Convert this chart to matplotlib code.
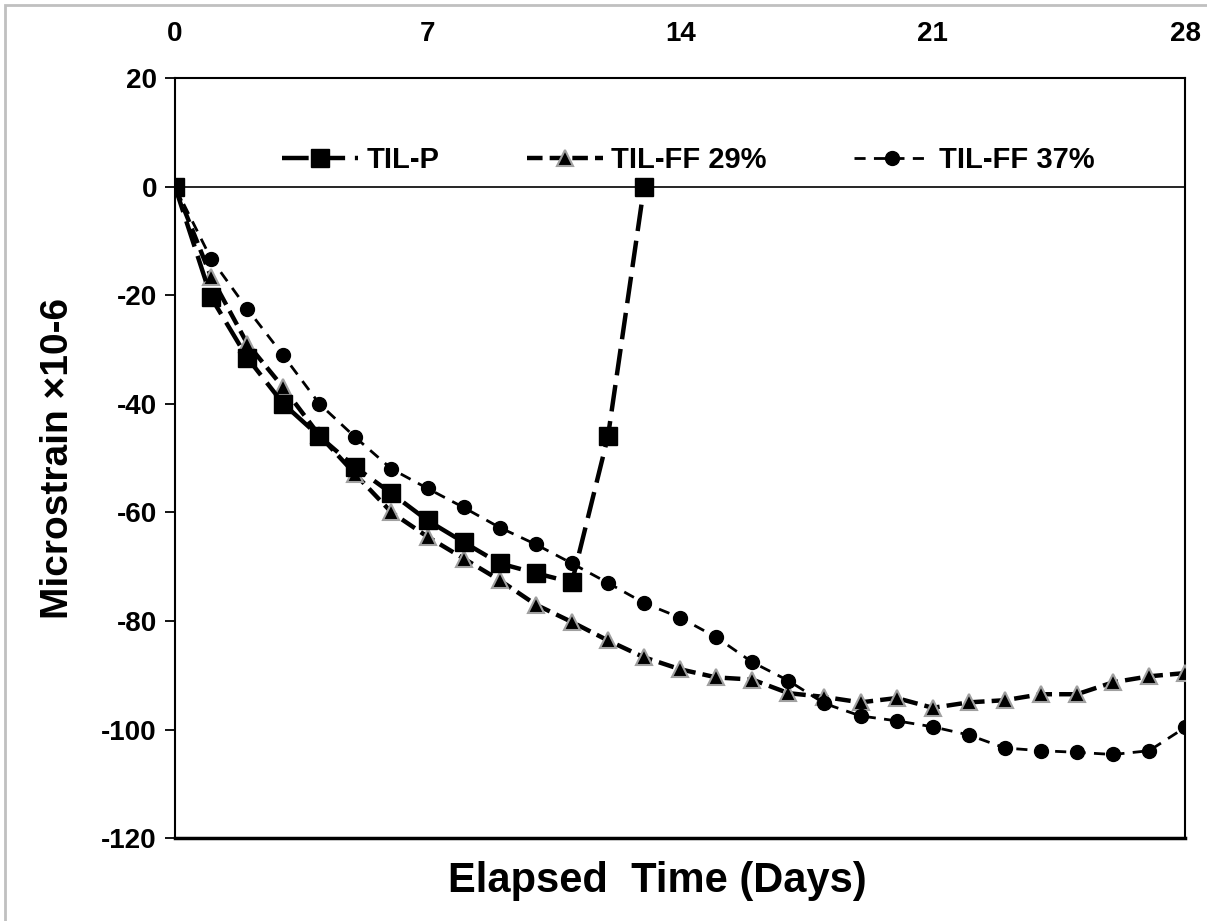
import matplotlib
matplotlib.use("Agg")
import matplotlib.pyplot as plt
from matplotlib.patches import Rectangle

plt.rcParams['font.family'] = ['Liberation Sans', 'DejaVu Sans']
plt.rcParams['font.weight'] = 'bold'
plt.rcParams['axes.unicode_minus'] = False

# days
days_p = list(range(0, 14))
days_ff = list(range(0, 29))

# TIL-P (squares)
til_p = [0, -20.4, -31.5, -40, -46, -51.7, -56.5, -61.5, -65.5, -69.4, -71.2, -72.9, -46, 0]

# TIL-FF 29% (triangles)
til_ff29 = [0, -16.6, -28.9, -37, -45.8, -53, -60, -64.5, -68.5, -72.5, -77, -80.2, -83.6, -86.7,
            -88.9, -90.4, -90.8, -93.3, -94, -95, -94.2, -96, -95, -94.6, -93.5, -93.5, -91.3, -90.2, -89.6]

# TIL-FF 37% (circles)
til_ff37 = [0, -13.3, -22.5, -31.1, -40, -46.2, -52, -55.6, -59.1, -62.8, -65.9, -69.4, -73, -76.7,
            -79.4, -83, -87.6, -91, -95.2, -97.5, -98.4, -99.5, -101, -103.4, -103.9, -104.2, -104.6, -103.9, -99.6]

x_ticks = [0, 7, 14, 21, 28]
y_ticks = [20, 0, -20, -40, -60, -80, -100, -120]

fig = plt.figure(figsize=(12.07, 9.21), dpi=100)
ax = fig.add_axes([0.145, 0.09, 0.837, 0.8253])

ax.axhline(0, color='black', lw=1.2, zorder=1)

ax.plot(days_p, til_p, color='black', lw=3.2, dashes=(6, 2.2), marker='s', markersize=13,
        markerfacecolor='black', markeredgecolor='black', label='TIL-P', zorder=4)
ax.plot(days_ff, til_ff29, color='black', lw=3.2, dashes=(3.5, 1.6), marker='^', markersize=12,
        markerfacecolor='black', markeredgecolor='#a0a0a0', markeredgewidth=1.5, label='TIL-FF 29%', zorder=3)
ax.plot(days_ff, til_ff37, color='black', lw=2, dashes=(4, 3), marker='o', markersize=10,
        markerfacecolor='black', markeredgecolor='black', label='TIL-FF 37%', zorder=3)

ax.set_xlim(0, 28)
ax.set_ylim(-120, 20)
ax.set_xticks(x_ticks)
ax.set_yticks(y_ticks)
ax.xaxis.tick_top()
ax.tick_params(axis='x', length=0, labelsize=20, pad=22)
ax.tick_params(axis='y', direction='out', length=7, width=1.3, labelsize=20, pad=6)
for lab in ax.get_xticklabels() + ax.get_yticklabels():
    lab.set_fontweight('bold')
for s in ax.spines.values():
    s.set_linewidth(1.5)
ax.spines['bottom'].set_linewidth(2.5)

ax.set_ylabel('Microstrain \u00d710-6', fontsize=28, fontweight='bold', labelpad=18)
fig.text(0.545, 0.043, 'Elapsed  Time (Days)', fontsize=30, fontweight='bold', ha='center', va='center')

leg = ax.legend(loc='upper center', bbox_to_anchor=(0.508, 0.945), ncol=3, frameon=False,
                fontsize=21, handlelength=2.6, columnspacing=3.0, handletextpad=0.3)
for t in leg.get_texts():
    t.set_fontweight('bold')

fig.patches.append(Rectangle((0.004, -0.01), 1.1, 1.005, transform=fig.transFigure,
                             fill=False, edgecolor='#c0c0c0', lw=2))

fig.savefig('out.png', dpi=100)
